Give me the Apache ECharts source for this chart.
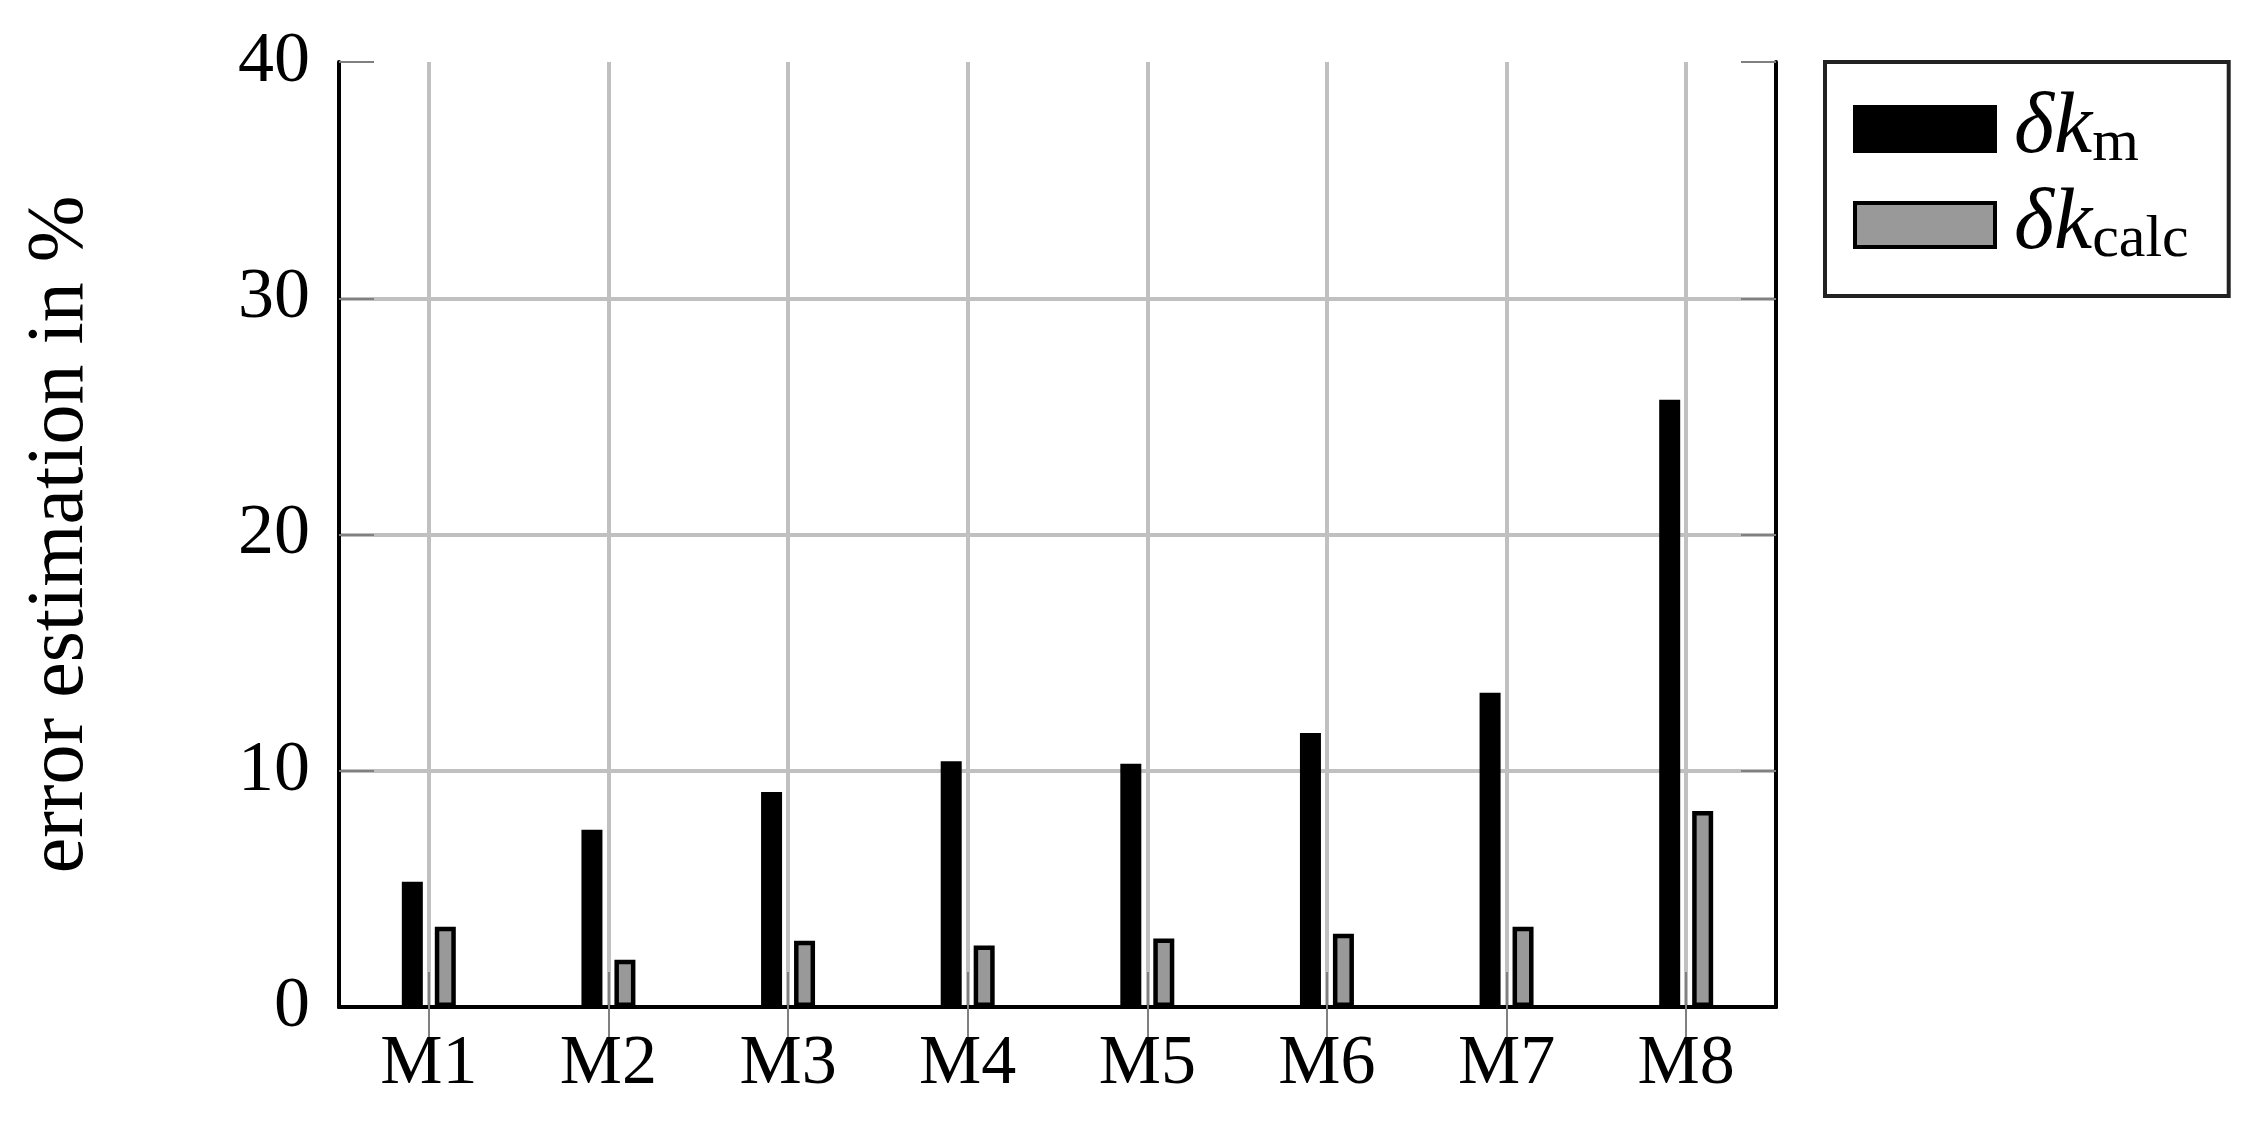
<!DOCTYPE html>
<html>
<head>
<meta charset="utf-8">
<script src="https://cdn.jsdelivr.net/npm/echarts@6/dist/echarts.min.js"></script>
<style>
    html, body { margin: 0; padding: 0; background: #fff; }
    #chart { width: 2259px; height: 1123px; }
</style>
</head>
<body>
<div id="chart"></div>
<script>
    // data
    var categories = ['M1', 'M2', 'M3', 'M4', 'M5', 'M6', 'M7', 'M8']
    var seriesNames = ['δk_m', 'δk_calc']
    var deltaKm = [5.3, 7.5, 9.1, 10.4, 10.3, 11.6, 13.3, 25.7]
    var deltaKcalc = [3.4, 2.0, 2.8, 2.6, 2.9, 3.1, 3.4, 8.3]
    var yTicks = [0, 10, 20, 30, 40]

    var serif = 'Liberation Serif'
    var gridColor = '#c0c0c0'
    var tickColor = '#808080'

    var chart = echarts.init(document.getElementById('chart'))

    var option = {
        backgroundColor: '#fff',
        animation: false,
        grid: {
            left: 339,
            right: 483,
            top: 62,
            bottom: 116
        },
        legend: {
            data: seriesNames,
            orient: 'vertical',
            left: 1825,
            top: 62,
            icon: 'rect',
            itemWidth: 140,
            itemHeight: 44,
            itemGap: 8,
            padding: [24, 40, 26, 28],
            borderColor: '#222',
            borderWidth: 4,
            backgroundColor: '#fff',
            selectedMode: false,
            itemStyle: { borderColor: '#000', borderWidth: 4 },
            formatter: function (name) {
                var parts = name.split('_')
                return '{it|' + parts[0] + '}{sub|' + parts[1] + '}'
            },
            textStyle: {
                padding: [0, 0, 0, 14],
                rich: {
                    it: {
                        fontFamily: serif,
                        fontStyle: 'italic',
                        fontSize: 86,
                        lineHeight: 90,
                        color: '#000'
                    },
                    sub: {
                        fontFamily: serif,
                        fontSize: 60,
                        lineHeight: 58,
                        verticalAlign: 'bottom',
                        color: '#000'
                    }
                }
            }
        },
        xAxis: [
            {
                type: 'category',
                data: categories,
                position: 'bottom',
                z: 5,
                axisLine: { show: true, lineStyle: { color: '#000', width: 4 } },
                axisTick: {
                    show: true, inside: true, length: 35, alignWithLabel: true,
                    lineStyle: { color: tickColor, width: 2 }
                },
                axisLabel: {
                    margin: 23,
                    color: '#000',
                    fontFamily: serif,
                    fontSize: 70
                },
                splitLine: {
                    show: true, alignWithLabel: true,
                    lineStyle: { color: gridColor, width: 4 }
                }
            },
            {
                type: 'category',
                data: categories,
                position: 'top',
                z: 5,
                axisLine: { show: true, lineStyle: { color: '#000', width: 4 } },
                axisTick: {
                    show: true, inside: true, length: 35, alignWithLabel: true,
                    lineStyle: { color: tickColor, width: 2 }
                },
                axisLabel: { show: false },
                splitLine: { show: false }
            }
        ],
        yAxis: [
            {
                type: 'value',
                position: 'left',
                min: yTicks[0],
                max: yTicks[yTicks.length - 1],
                interval: 10,
                name: 'error estimation in %',
                nameLocation: 'middle',
                nameGap: 238,
                nameTextStyle: {
                    fontFamily: serif,
                    fontSize: 80,
                    color: '#000'
                },
                axisLine: { show: true, lineStyle: { color: '#000', width: 4 } },
                axisTick: {
                    show: true, inside: true, length: 35,
                    lineStyle: { color: tickColor, width: 2 }
                },
                axisLabel: {
                    margin: 29,
                    color: '#000',
                    fontFamily: serif,
                    fontSize: 72
                },
                splitLine: {
                    show: true, showMinLine: false, showMaxLine: false,
                    lineStyle: { color: gridColor, width: 4 }
                }
            },
            {
                type: 'value',
                position: 'right',
                min: yTicks[0],
                max: yTicks[yTicks.length - 1],
                interval: 10,
                axisLine: { show: true, lineStyle: { color: '#000', width: 4 } },
                axisTick: {
                    show: true, inside: true, length: 35,
                    lineStyle: { color: tickColor, width: 2 }
                },
                axisLabel: { show: false },
                splitLine: { show: false }
            }
        ],
        series: [
            {
                name: seriesNames[0],
                type: 'bar',
                xAxisIndex: 0,
                yAxisIndex: 0,
                barWidth: 21,
                barGap: '57%',
                itemStyle: { color: '#000', borderColor: '#000', borderWidth: 4.5 },
                data: deltaKm
            },
            {
                name: seriesNames[1],
                type: 'bar',
                xAxisIndex: 0,
                yAxisIndex: 0,
                barWidth: 21,
                barGap: '57%',
                itemStyle: { color: '#999999', borderColor: '#000', borderWidth: 4.5 },
                data: deltaKcalc
            }
        ]
    }

    chart.setOption(option)
</script>
</body>
</html>
